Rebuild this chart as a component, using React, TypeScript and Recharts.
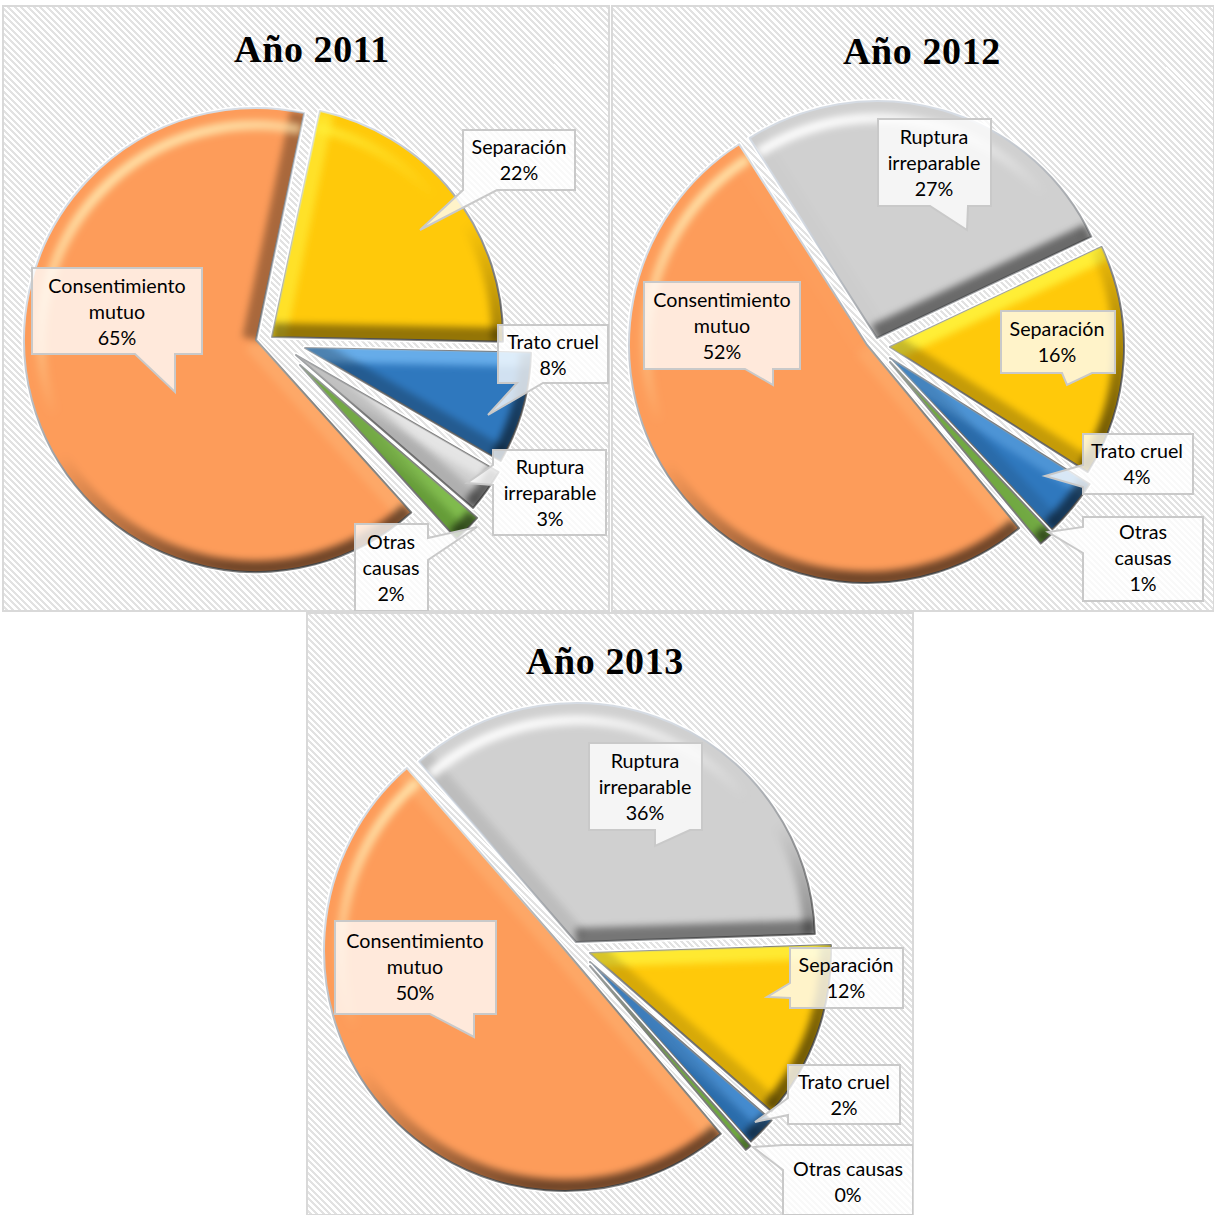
import React from "react";
import { PieChart, Pie } from "recharts";

const names2011 = ["Separación", "Trato cruel", "Ruptura irreparable", "Otras causas", "Consentimiento mutuo"];
const values2011 = [22, 8, 3, 2, 65];
const names2012 = ["Ruptura irreparable", "Separación", "Trato cruel", "Otras causas", "Consentimiento mutuo"];
const values2012 = [27, 16, 4, 1, 52];
const names2013 = ["Ruptura irreparable", "Separación", "Trato cruel", "Otras causas", "Consentimiento mutuo"];
const values2013 = [36, 12, 2, 0.4, 50];
const titles = ["Año 2011", "Año 2012", "Año 2013"];

const colorOf: Record<string, string> = {
  "Consentimiento mutuo": "#FD9C5A",
  "Separación": "#FFC90A",
  "Trato cruel": "#2F78BE",
  "Ruptura irreparable": "#D0D0D0",
  "Otras causas": "#70AD3E",
};
const lightOf: Record<string, string> = {
  "Consentimiento mutuo": "#FFE2A8",
  "Separación": "#FFF23C",
  "Trato cruel": "#78BDF7",
  "Ruptura irreparable": "#FFFFFF",
  "Otras causas": "#A9E070",
};

type Pt = [number, number];
type Callout = { lines: string[]; cx: number; top: number; pts: Pt[] };

// Layout, in page pixels
const layouts = [
  {
    panel: { x: 3, y: 6, w: 606, h: 605 },
    titleX: 312, titleY: 62,
    center: [268, 342] as Pt, radius: 234, rot: 12,
    apex: [[272, 337], [305, 348], [296, 355], [300, 365], [256, 340]] as Pt[],
    trim: [3, 8, 0, 0, 2],
    callouts: [
      { lines: ["Separación"], cx: 519, top: 147, pts: [[463,130],[575,130],[575,190],[497,190],[420,230],[463,190]] },
      { lines: ["Trato cruel"], cx: 553, top: 342, pts: [[498,325],[608,325],[608,383],[543,383],[488,415],[517,383],[498,383]] },
      { lines: ["Ruptura", "irreparable"], cx: 550, top: 467, pts: [[493,450],[606,450],[606,535],[493,535],[493,485],[467,483],[493,465]] },
      { lines: ["Otras", "causas"], cx: 391, top: 542, pts: [[355,524],[428,524],[428,538],[477,527],[428,560],[428,611],[355,611]] },
      { lines: ["Consentimiento", "mutuo"], cx: 117, top: 286, pts: [[32,268],[202,268],[202,354],[175,354],[175,392],[135,354],[32,354]] },
    ] as Callout[],
  },
  {
    panel: { x: 612, y: 6, w: 602, h: 605 },
    titleX: 922, titleY: 64,
    center: [875, 345] as Pt, radius: 238, rot: -32.5,
    apex: [[877, 338], [890, 347], [890, 358], [890, 362], [867, 345]] as Pt[],
    trim: [1, 4, 2, 2, 0],
    callouts: [
      { lines: ["Ruptura", "irreparable"], cx: 934, top: 137, pts: [[878,119],[991,119],[991,206],[968,206],[967,230],[930,206],[878,206]] },
      { lines: ["Separación"], cx: 1057, top: 329, pts: [[1001,311],[1115,311],[1115,373],[1092,373],[1067,385],[1062,373],[1001,373]] },
      { lines: ["Trato cruel"], cx: 1137, top: 451, pts: [[1083,434],[1193,434],[1193,494],[1083,494],[1083,487],[1045,476],[1083,465]] },
      { lines: ["Otras", "causas"], cx: 1143, top: 532, pts: [[1083,517],[1203,517],[1203,601],[1083,601],[1083,553],[1048,532],[1083,527]] },
      { lines: ["Consentimiento", "mutuo"], cx: 722, top: 300, pts: [[644,282],[800,282],[800,369],[773,369],[773,385],[745,369],[644,369]] },
    ] as Callout[],
  },
  {
    panel: { x: 307, y: 613, w: 606, h: 602 },
    titleX: 605, titleY: 674,
    center: [575, 948] as Pt, radius: 241, rot: -41,
    apex: [[576, 942], [590, 953], [590, 962], [590, 966], [565, 950]] as Pt[],
    trim: [2, 0, 0, 0, 0],
    callouts: [
      { lines: ["Ruptura", "irreparable"], cx: 645, top: 761, pts: [[589,743],[702,743],[702,830],[690,830],[655,846],[655,830],[589,830]] },
      { lines: ["Separación"], cx: 846, top: 965, pts: [[790,948],[903,948],[903,1008],[790,1008],[790,998],[767,997],[790,983]] },
      { lines: ["Trato cruel"], cx: 844, top: 1082, pts: [[788,1065],[900,1065],[900,1124],[788,1124],[788,1115],[755,1122],[788,1098]] },
      { lines: ["Otras causas"], cx: 848, top: 1169, pts: [[783,1145],[913,1145],[913,1215],[783,1215],[783,1170],[753,1147]] },
      { lines: ["Consentimiento", "mutuo"], cx: 415, top: 941, pts: [[335,921],[496,921],[496,1014],[474,1014],[474,1037],[430,1014],[335,1014]] },
    ] as Callout[],
  },
];

const seriesList = [
  { names: names2011, values: values2011 },
  { names: names2012, values: values2012 },
  { names: names2013, values: values2013 },
];

const LIGHT: Pt = [-0.5, -0.85];
const BEVEL = 14;

function makeShape(chart: number) {
  const lay = layouts[chart];
  return function SliceShape(props: any) {
    const name = props.name ?? props.payload?.name;
    const idx = seriesList[chart].names.indexOf(name);
    const [ax, ay] = lay.apex[idx];
    const cx = props.cx + (ax - lay.center[0]);
    const cy = props.cy + (ay - lay.center[1]);
    const r = props.outerRadius - lay.trim[idx];
    const a0 = (props.startAngle * Math.PI) / 180;
    const a1 = (props.endAngle * Math.PI) / 180;
    const at = (rad: number, a: number): Pt => [cx + rad * Math.cos(a), cy - rad * Math.sin(a)];
    const p0 = at(r, a0);
    const p1 = at(r, a1);
    const large = Math.abs(props.startAngle - props.endAngle) > 180 ? 1 : 0;
    const d = `M${cx},${cy}L${p0[0]},${p0[1]}A${r},${r} 0 ${large} 1 ${p1[0]},${p1[1]}Z`;
    const arc = (rad: number) => {
      const s = at(rad, a0);
      const e = at(rad, a1);
      return `M${s[0]},${s[1]}A${rad},${rad} 0 ${large} 1 ${e[0]},${e[1]}`;
    };
    const id = `c${chart}s${idx}`;
    const light = lightOf[name];
    // (nx, ny) is the outward normal of the straight edge
    const strip = (pEnd: Pt, nx: number, ny: number) => {
      const lit = nx * LIGHT[0] + ny * LIGHT[1];
      const fill = lit > 0 ? light : "#000";
      const op = lit > 0 ? Math.min(1, lit * 0.9) : -lit * 0.5;
      const b = BEVEL;
      const pts = [
        [cx + nx * b, cy + ny * b],
        [pEnd[0] + nx * b, pEnd[1] + ny * b],
        [pEnd[0] - nx * b, pEnd[1] - ny * b],
        [cx - nx * b, cy - ny * b],
      ].map((q) => q.join(",")).join(" ");
      return <polygon points={pts} fill={fill} fillOpacity={op} filter={`url(#blur${id})`} />;
    };
    const g = { gradientUnits: "userSpaceOnUse" as const, x1: cx + LIGHT[0] * r, y1: cy + LIGHT[1] * r, x2: cx - LIGHT[0] * r, y2: cy - LIGHT[1] * r };
    return (
      <g>
        <defs>
          <clipPath id={`clip${id}`}><path d={d} /></clipPath>
          <filter id={`blur${id}`} filterUnits="userSpaceOnUse" x={-50} y={-50} width={800} height={800}>
            <feGaussianBlur stdDeviation={3.5} />
          </filter>
          <linearGradient id={`lt${id}`} {...g}>
            <stop offset="0.05" stopColor={light} stopOpacity={0.95} />
            <stop offset="0.42" stopColor={light} stopOpacity={0} />
          </linearGradient>
          <linearGradient id={`dk${id}`} {...g}>
            <stop offset="0.5" stopColor="#000" stopOpacity={0} />
            <stop offset="0.9" stopColor="#000" stopOpacity={0.55} />
          </linearGradient>
          <linearGradient id={`ol${id}`} {...g}>
            <stop offset="0.2" stopColor="#d5dbe3" />
            <stop offset="0.7" stopColor="#7c7c7c" />
          </linearGradient>
        </defs>
        <path d={d} fill="none" stroke="#fff" strokeWidth={5} strokeLinejoin="round" />
        <path d={d} fill={props.fill} stroke={`url(#ol${id})`} strokeWidth={2} strokeLinejoin="round" />
        <g clipPath={`url(#clip${id})`}>
          {strip(p0, -Math.sin(a0), -Math.cos(a0))}
          {strip(p1, Math.sin(a1), Math.cos(a1))}
          <path d={arc(r - 17)} fill="none" stroke={`url(#lt${id})`} strokeWidth={10} filter={`url(#blur${id})`} />
          <path d={arc(r - 4)} fill="none" stroke={`url(#dk${id})`} strokeWidth={15} filter={`url(#blur${id})`} />
        </g>
      </g>
    );
  };
}

function makeLabel(chart: number) {
  const lay = layouts[chart];
  const ox = lay.panel.x;
  const oy = lay.panel.y;
  return function SliceLabel(props: any) {
    const name = props.name ?? props.payload?.name;
    const idx = seriesList[chart].names.indexOf(name);
    const c = lay.callouts[idx];
    const value = seriesList[chart].values[idx];
    const rows = [...c.lines, `${Math.round(value)}%`];
    return (
      <g>
        <polygon
          points={c.pts.map(([x, y]) => `${x - ox},${y - oy}`).join(" ")}
          fill="#fff"
          fillOpacity={0.78}
          stroke="#c9c9c9"
          strokeWidth={2}
        />
        {rows.map((row, i) => (
          <text
            key={row}
            x={c.cx - ox}
            y={c.top - oy + i * 26}
            dy="0.35em"
            textAnchor="middle"
            fontFamily="Lato, sans-serif"
            fontSize={19.7}
            fill="#000"
          >
            {row}
          </text>
        ))}
      </g>
    );
  };
}

function Panel({ chart }: { chart: number }) {
  const lay = layouts[chart];
  const { panel } = lay;
  const { names, values } = seriesList[chart];
  const data = names.map((name, i) => ({ name, value: values[i], fill: colorOf[name] }));
  const start = 90 - lay.rot;
  return (
    <div
      style={{
        position: "absolute",
        left: panel.x,
        top: panel.y,
        width: panel.w,
        height: panel.h,
        boxSizing: "border-box",
        outline: "2px solid #d9d9d9",
        outlineOffset: -1,
        background: "repeating-linear-gradient(45deg, #ffffff 0 2.4px, #e2e2e2 2.4px 4.5px)",
      }}
    >
      <PieChart width={panel.w} height={panel.h} margin={{ top: 0, right: 0, bottom: 0, left: 0 }}>
        <text
          x={lay.titleX - panel.x}
          y={lay.titleY - panel.y}
          textAnchor="middle"
          fontFamily="'Liberation Serif', serif"
          fontWeight={700}
          fontSize={38}
          letterSpacing={0.6}
          fill="#000"
        >
          {titles[chart]}
        </text>
        <Pie
          data={data}
          dataKey="value"
          nameKey="name"
          cx={lay.center[0] - panel.x}
          cy={lay.center[1] - panel.y}
          innerRadius={0}
          outerRadius={lay.radius}
          startAngle={start}
          endAngle={start - 360}
          paddingAngle={0}
          stroke="none"
          isAnimationActive={false}
          shape={makeShape(chart)}
          label={makeLabel(chart)}
          labelLine={false}
        />
      </PieChart>
    </div>
  );
}

export default function App() {
  return (
    <div style={{ position: "absolute", left: 0, top: 0, width: 1214, height: 1215, overflow: "hidden", background: "#fff" }}>
      <Panel chart={0} />
      <Panel chart={1} />
      <Panel chart={2} />
    </div>
  );
}
